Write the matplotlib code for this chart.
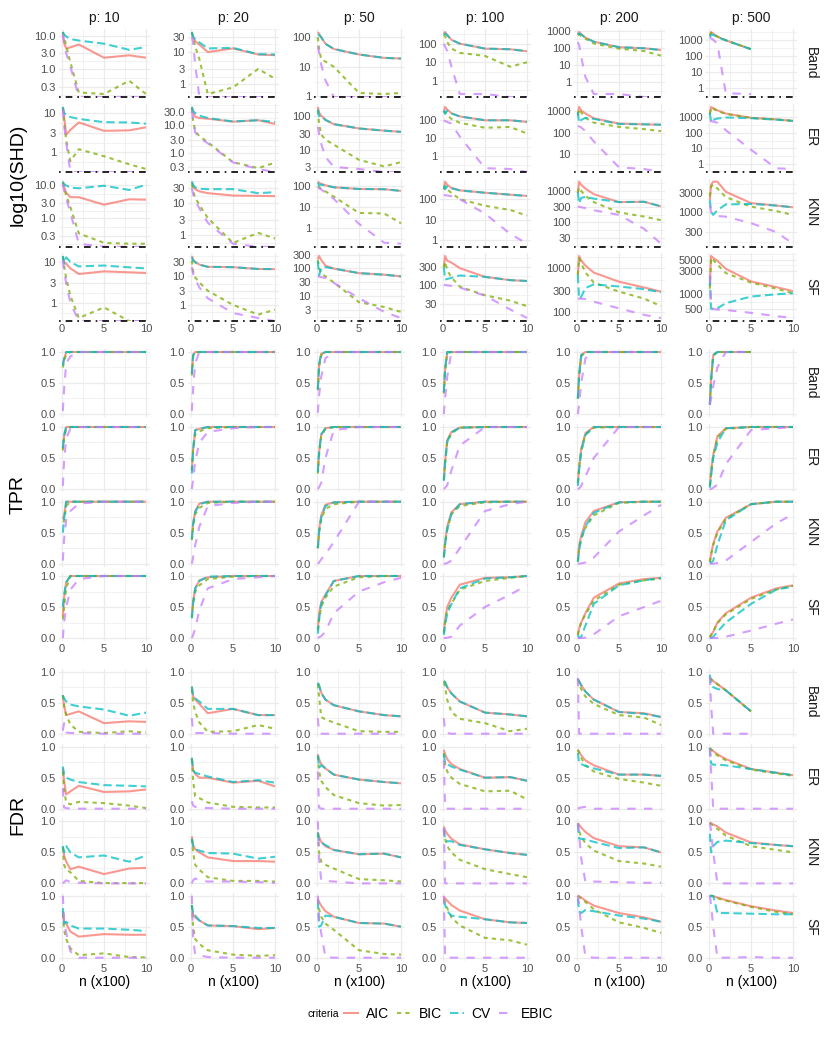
import numpy as np
import matplotlib
matplotlib.use('Agg')
import matplotlib.pyplot as plt
from matplotlib.lines import Line2D
from matplotlib.ticker import FixedLocator, FixedFormatter, NullFormatter

plt.rcParams['font.family'] = ['Liberation Sans', 'DejaVu Sans']

nan = np.nan
n_vals = [0.1, 0.25, 0.5, 1, 2, 5, 8, 10]
p_vals = [10, 20, 50, 100, 200, 500]
graphs = ['Band', 'ER', 'KNN', 'SF']
criteria = ['AIC', 'BIC', 'CV', 'EBIC']

# ---- SHD (log scale), one list per p = 10, 20, 50, 100, 200, 500 ----
shd_band = {
    'AIC': [[13, 6, 4.2, 4.5, 5.5, 2.2, 2.6, 2.2], [42, 28, 22, 17, 10, 13, 8.4, 8],
            [150, 130, 100, 60, 40, 26, 20, 19], [330, 420, 300, 160, 100, 54, 50, 39],
            [600, 850, 650, 400, 230, 110, 95, 75], [2000, 3300, 2600, 1700, 1000, 280, nan, nan]],
    'BIC': [[13, 9, 5, 1.6, 0.2, 0.18, 0.45, 0.18], [40, 28, 15, 6, 0.5, 0.8, 3, 1.5],
            [100, 40, 18, 15, 10, 1.3, 1.2, 1.3], [300, 250, 120, 55, 32, 22, 5.8, 10],
            [550, 600, 500, 350, 180, 90, 65, 35], [2000, 3000, 2500, 1700, 1000, 280, nan, nan]],
    'CV': [[13, 11, 9.5, 8, 7.2, 5.8, 3.8, 4.6], [42, 30, 25, 20, 13, 13.5, 8.6, 8.4],
           [120, 120, 100, 60, 40, 26, 20, 19], [300, 350, 280, 160, 100, 54, 50, 39],
           [600, 700, 600, 380, 230, 110, 95, 75], [1500, 2200, 2200, 1600, 1000, 280, nan, nan]],
    'EBIC': [[11, 6, 3, 1.2, 0, 0, 0, 0], [30, 20, 4, 0, 0, 0, 0, 0],
             [50, 30, 12, 3.5, 0, 0, 0, 0], [100, 70, 40, 6, 0.2, 0.2, 0, 0],
             [220, 150, 30, 2, 0.2, 0.2, 0, 0], [1500, 1300, 1100, 600, 0.5, 0.45, nan, nan]],
}
shd_er = {
    'AIC': [[14, 8, 2.8, 3.7, 5.7, 3.5, 3.6, 4.3], [45, 28, 20, 18, 17, 13.3, 15, 11],
            [190, 130, 105, 78, 58, 43, 37, 34], [300, 560, 400, 250, 165, 100, 100, 81],
            [600, 1600, 1100, 800, 480, 270, 250, 240], [1500, 4800, 4000, 2900, 1800, 950, 750, 600]],
    'BIC': [[13, 6, 2, 0.6, 1.2, 0.8, 0.5, 0.38], [40, 15, 6, 4, 2.4, 0.46, 0.28, 0.44],
            [150, 60, 28, 20, 14, 4.9, 3.1, 4.2], [250, 300, 200, 120, 72, 38, 42, 18],
            [700, 1300, 900, 500, 300, 190, 150, 120], [1800, 4500, 3800, 2700, 1700, 950, 750, 600]],
    'CV': [[14, 10, 8.7, 7.8, 7, 5.8, 5.7, 5.3], [45, 32, 27, 22, 18, 13.5, 15, 13],
           [160, 100, 105, 78, 58, 43, 37, 34], [350, 230, 350, 240, 165, 100, 100, 81],
           [900, 300, 400, 500, 450, 260, 250, 240], [2000, 500, 700, 850, 1000, 900, 720, 600]],
    'EBIC': [[12, 5, 1.8, 0, 0, 0, 0, 0], [33, 15, 5.5, 3.5, 2.2, 0.45, 0.26, 0],
             [48, 30, 15, 6, 3.0, 2.6, 0, 0], [100, 90, 80, 65, 12, 0.2, 0.18, 0],
             [210, 200, 180, 120, 40, 2.5, 2.1, 0], [600, 580, 550, 450, 150, 8, 0.5, 0.45]],
}
shd_knn = {
    'AIC': [[13, 9, 6, 4.4, 4.4, 2.6, 3.8, 3.7], [48, 35, 28, 24, 21, 17.7, 17.3, 17],
            [165, 150, 130, 112, 89, 74, 72, 60], [300, 700, 500, 350, 265, 205, 165, 143],
            [850, 2000, 1600, 1200, 790, 440, 450, 320], [2000, 5000, 6000, 6000, 3300, 1680, 1450, 1310]],
    'BIC': [[12, 8, 5, 2.2, 0.35, 0.18, 0.17, 0.17], [40, 25, 15, 9, 3.5, 0.58, 1.2, 0.8],
            [100, 90, 75, 57, 32, 5.3, 5, 1.7], [300, 420, 300, 200, 100, 48, 30, 16],
            [900, 1300, 1000, 700, 440, 205, 150, 115], [2500, 4500, 5000, 4000, 2400, 1360, 1050, 830]],
    'CV': [[13, 11, 10, 8.6, 8.2, 9.8, 7.3, 10.5], [48, 38, 32, 29, 28, 28, 21, 22.5],
           [150, 110, 120, 110, 89, 74, 72, 60], [450, 300, 420, 340, 265, 205, 165, 143],
           [900, 400, 600, 650, 570, 440, 450, 320], [2000, 1000, 830, 1100, 1550, 1600, 1450, 1310]],
    'EBIC': [[11, 7, 4, 1.5, 0.17, 0, 0, 0], [30, 20, 12, 7, 2.5, 0.55, 0, 0],
             [90, 80, 70, 50, 25, 1.6, 0.2, 0.18], [160, 155, 150, 140, 100, 20, 2.1, 0.7],
             [320, 310, 300, 280, 240, 170, 60, 20], [1500, 1000, 810, 780, 750, 510, 300, 150]],
}
shd_sf = {
    'AIC': [[14, 10, 9, 7, 5.1, 5.9, 5.6, 5.4], [50, 38, 31, 25, 21, 20.5, 17.7, 17.5],
            [210, 280, 200, 125, 97, 66, 58, 50], [300, 600, 450, 400, 283, 165, 135, 128],
            [700, 1900, 1500, 1150, 790, 490, 360, 290], [1500, 6000, 5500, 4800, 3300, 1830, 1400, 1160]],
    'BIC': [[13, 8, 4, 1.5, 0.43, 0.78, 0, 0], [35, 15, 9, 6, 3.1, 1, 0.46, 0.68],
            [200, 100, 65, 50, 30, 5.7, 3.8, 2.5], [300, 420, 250, 160, 90, 53, 38, 27],
            [700, 1700, 1300, 800, 465, 290, 200, 135], [1300, 5500, 5000, 4000, 2700, 1730, 1300, 1050]],
    'CV': [[14, 9, 13, 10, 7.8, 8.2, 7.4, 7], [45, 35, 30, 25, 21, 20.5, 17.7, 17.5],
           [180, 55, 100, 110, 97, 66, 58, 50], [300, 140, 145, 155, 180, 165, 135, 128],
           [700, 200, 220, 350, 425, 380, 330, 280], [2200, 510, 500, 520, 660, 900, 1000, 1050]],
    'EBIC': [[11, 6, 3, 1, 0, 0, 0, 0], [21, 12, 8, 4, 1.7, 0.52, 0.35, 0],
             [50, 49, 47, 44, 29, 8, 2.5, 1.5], [100, 100, 98, 95, 85, 52, 22, 13],
             [200, 200, 200, 195, 170, 120, 85, 72], [2500, 600, 500, 490, 480, 420, 360, 330]],
}
shd_ticks = [
    [['0.3', '1.0', '3.0', '10.0'], ['1', '3', '10', '30'], ['1', '10', '100'],
     ['1', '10', '100'], ['1', '10', '100', '1000'], ['1', '10', '100', '1000']],
    [['1', '3', '10'], ['0.3', '1.0', '3.0', '10.0', '30.0'], ['3', '10', '30', '100'],
     ['1', '10', '100'], ['10', '100', '1000'], ['1', '10', '100', '1000']],
    [['0.3', '1.0', '3.0', '10.0'], ['1', '3', '10', '30'], ['1', '10', '100'],
     ['1', '10', '100'], ['30', '100', '300', '1000'], ['300', '1000', '3000']],
    [['1', '3', '10'], ['1', '3', '10', '30'], ['3', '10', '30', '100', '300'],
     ['30', '100', '300'], ['100', '300', '1000'], ['500', '1000', '3000', '5000']],
]

# ---- TPR ----
tpr_band = {
    'AIC': [[0.8, 0.88, 1, 1, 1, 1, 1, 1], [0.65, 0.95, 1, 1, 1, 1, 1, 1], [0.4, 0.8, 0.97, 1, 1, 1, 1, 1],
            [0.35, 0.72, 1, 1, 1, 1, 1, 1], [0.25, 0.62, 0.95, 1, 1, 1, 1, 1], [0.15, 0.55, 0.95, 1, 1, 1, nan, nan]],
    'BIC': [[0.75, 0.85, 0.97, 1, 1, 1, 1, 1], [0.62, 0.93, 0.99, 1, 1, 1, 1, 1], [0.38, 0.75, 0.95, 1, 1, 1, 1, 1],
            [0.33, 0.7, 0.98, 1, 1, 1, 1, 1], [0.25, 0.6, 0.93, 1, 1, 1, 1, 1], [0.15, 0.55, 0.94, 1, 1, 1, nan, nan]],
    'CV': [[0.78, 0.9, 1, 1, 1, 1, 1, 1], [0.65, 0.95, 1, 1, 1, 1, 1, 1], [0.4, 0.8, 0.97, 1, 1, 1, 1, 1],
           [0.35, 0.72, 1, 1, 1, 1, 1, 1], [0.25, 0.62, 0.95, 1, 1, 1, 1, 1], [0.15, 0.55, 0.95, 1, 1, 1, nan, nan]],
    'EBIC': [[0.05, 0.4, 0.82, 0.93, 1, 1, 1, 1], [0.05, 0.4, 0.82, 1, 1, 1, 1, 1], [0.02, 0.3, 0.6, 0.9, 1, 1, 1, 1],
             [0.0, 0.25, 0.6, 1, 1, 1, 1, 1], [0, 0.15, 0.5, 0.9, 1, 1, 1, 1], [0.15, 0.25, 0.45, 0.75, 1, 1, nan, nan]],
}
tpr_er = {
    'AIC': [[0.65, 0.85, 1, 1, 1, 1, 1, 1], [0.3, 0.65, 0.95, 0.97, 1, 1, 1, 1], [0.3, 0.6, 0.87, 0.98, 1, 1, 1, 1],
            [0.15, 0.45, 0.79, 0.92, 0.99, 1, 1, 1], [0.1, 0.35, 0.65, 0.9, 1, 1, 1, 1], [0.05, 0.3, 0.55, 0.85, 0.98, 1, 1, 1]],
    'BIC': [[0.62, 0.82, 0.97, 1, 1, 1, 1, 1], [0.3, 0.65, 0.88, 0.93, 0.98, 1, 1, 1], [0.25, 0.55, 0.85, 0.97, 1, 1, 1, 1],
            [0.15, 0.42, 0.75, 0.9, 0.99, 1, 1, 1], [0.1, 0.35, 0.62, 0.88, 0.99, 1, 1, 1], [0.05, 0.28, 0.52, 0.83, 0.97, 1, 1, 1]],
    'CV': [[0.66, 0.87, 1, 1, 1, 1, 1, 1], [0.25, 0.6, 0.95, 0.97, 1, 1, 1, 1], [0.27, 0.6, 0.88, 0.98, 1, 1, 1, 1],
           [0.13, 0.42, 0.76, 0.91, 0.99, 1, 1, 1], [0.05, 0.3, 0.6, 0.87, 1, 1, 1, 1], [0.02, 0.2, 0.5, 0.75, 0.98, 1, 1, 1]],
    'EBIC': [[0.05, 0.45, 0.82, 0.97, 1, 1, 1, 1], [0.0, 0.15, 0.45, 0.75, 0.92, 0.98, 1, 1], [0, 0.03, 0.1, 0.5, 0.95, 1, 1, 1],
             [0, 0.02, 0.06, 0.3, 0.7, 1, 1, 1], [0, 0.01, 0.05, 0.2, 0.5, 1, 1, 1], [0, 0, 0.02, 0.07, 0.4, 0.95, 0.98, 1]],
}
tpr_knn = {
    'AIC': [[0.72, 0.78, 1, 1, 1, 1, 1, 1], [0.4, 0.65, 0.85, 0.97, 1, 1, 1, 1], [0.25, 0.55, 0.78, 0.95, 0.99, 1, 1, 1],
            [0.1, 0.35, 0.6, 0.83, 0.96, 1, 1, 1], [0.05, 0.3, 0.45, 0.67, 0.85, 0.99, 1, 1], [0.03, 0.15, 0.32, 0.52, 0.74, 0.96, 1, 1]],
    'BIC': [[0.68, 0.68, 0.93, 1, 1, 1, 1, 1], [0.38, 0.6, 0.8, 0.9, 0.98, 1, 1, 1], [0.25, 0.5, 0.72, 0.88, 0.96, 1, 1, 1],
            [0.12, 0.35, 0.55, 0.8, 0.93, 0.99, 1, 1], [0.03, 0.25, 0.4, 0.58, 0.78, 0.98, 1, 1], [0.03, 0.15, 0.3, 0.5, 0.72, 0.96, 1, 1]],
    'CV': [[0.5, 0.72, 1, 1, 1, 1, 1, 1], [0.4, 0.63, 0.83, 0.96, 1, 1, 1, 1], [0.25, 0.52, 0.74, 0.93, 0.99, 1, 1, 1],
           [0.1, 0.3, 0.55, 0.8, 0.96, 1, 1, 1], [0.03, 0.2, 0.4, 0.6, 0.82, 0.99, 1, 1], [0.03, 0.01, 0.05, 0.3, 0.7, 0.96, 1, 1]],
    'EBIC': [[0.05, 0.4, 0.7, 0.85, 0.97, 1, 1, 1], [0, 0.1, 0.3, 0.6, 0.93, 0.98, 1, 1], [0, 0.02, 0.07, 0.15, 0.35, 1, 1, 1],
             [0, 0, 0.01, 0.05, 0.25, 0.85, 0.96, 1], [0, 0, 0.005, 0.02, 0.1, 0.52, 0.78, 0.95], [0, 0, 0, 0.01, 0.05, 0.35, 0.65, 0.8]],
}
tpr_sf = {
    'AIC': [[0.35, 0.65, 0.9, 1, 1, 1, 1, 1], [0.35, 0.6, 0.8, 0.93, 0.98, 1, 1, 1], [0.15, 0.4, 0.58, 0.7, 0.92, 1, 1, 1],
            [0.1, 0.3, 0.5, 0.65, 0.86, 0.97, 0.98, 1], [0.05, 0.15, 0.25, 0.4, 0.65, 0.88, 0.95, 0.97], [0.01, 0.05, 0.1, 0.25, 0.4, 0.65, 0.8, 0.85]],
    'BIC': [[0.3, 0.5, 0.8, 1, 1, 1, 1, 1], [0.32, 0.55, 0.75, 0.85, 0.95, 0.99, 1, 1], [0.12, 0.3, 0.5, 0.65, 0.83, 0.98, 1, 1],
            [0.08, 0.25, 0.45, 0.55, 0.78, 0.92, 0.97, 1], [0.05, 0.15, 0.25, 0.38, 0.6, 0.86, 0.93, 0.96], [0.01, 0.05, 0.1, 0.24, 0.38, 0.63, 0.78, 0.84]],
    'CV': [[0.5, 0.7, 0.9, 1, 1, 1, 1, 1], [0.32, 0.55, 0.8, 0.92, 0.99, 1, 1, 1], [0.07, 0.3, 0.55, 0.68, 0.92, 1, 1, 1],
           [0.05, 0.2, 0.4, 0.55, 0.8, 0.96, 0.98, 1], [0.05, 0.0, 0.02, 0.2, 0.55, 0.85, 0.93, 0.97], [0, 0, 0.02, 0.1, 0.25, 0.55, 0.78, 0.83]],
    'EBIC': [[0, 0.25, 0.5, 0.78, 0.95, 1, 1, 1], [0, 0.05, 0.15, 0.45, 0.8, 0.95, 0.98, 1], [0, 0.01, 0.03, 0.1, 0.4, 0.75, 0.9, 0.97],
             [0, 0, 0.005, 0.02, 0.2, 0.5, 0.7, 0.85], [0, 0, 0, 0.005, 0.06, 0.35, 0.5, 0.6], [0, 0, 0, 0, 0.02, 0.12, 0.23, 0.3]],
}

# ---- FDR ----
fdr_band = {
    'AIC': [[0.62, 0.45, 0.3, 0.32, 0.36, 0.17, 0.2, 0.19], [0.76, 0.6, 0.55, 0.48, 0.33, 0.4, 0.3, 0.3],
            [0.82, 0.78, 0.66, 0.55, 0.46, 0.36, 0.3, 0.28], [0.85, 0.83, 0.75, 0.65, 0.52, 0.34, 0.31, 0.28],
            [0.88, 0.85, 0.78, 0.68, 0.55, 0.35, 0.33, 0.27], [0.9, 0.88, 0.85, 0.8, 0.7, 0.36, nan, nan]],
    'BIC': [[0.62, 0.45, 0.3, 0.15, 0.03, 0.01, 0.04, 0.015], [0.72, 0.5, 0.35, 0.18, 0.03, 0.04, 0.14, 0.08],
            [0.8, 0.6, 0.27, 0.23, 0.18, 0.04, 0.03, 0.03], [0.83, 0.75, 0.55, 0.35, 0.24, 0.17, 0.04, 0.08],
            [0.88, 0.8, 0.72, 0.6, 0.48, 0.3, 0.26, 0.14], [0.9, 0.88, 0.85, 0.8, 0.7, 0.36, nan, nan]],
    'CV': [[0.62, 0.57, 0.52, 0.47, 0.44, 0.39, 0.29, 0.34], [0.76, 0.6, 0.57, 0.52, 0.4, 0.4, 0.3, 0.3],
           [0.82, 0.78, 0.66, 0.55, 0.46, 0.36, 0.3, 0.28], [0.85, 0.83, 0.75, 0.65, 0.52, 0.34, 0.31, 0.28],
           [0.88, 0.85, 0.78, 0.68, 0.55, 0.35, 0.32, 0.27], [0.95, 0.78, 0.75, 0.72, 0.7, 0.36, nan, nan]],
    'EBIC': [[0.05, 0.17, 0.02, 0.01, 0.01, 0, 0, 0], [0.25, 0.02, 0.01, 0.01, 0.01, 0, 0, 0],
             [0.25, 0.01, 0, 0, 0, 0, 0, 0], [0.25, 0.03, 0.01, 0, 0, 0, 0, 0],
             [0.9, 0, 0, 0, 0, 0, 0, 0], [0.92, 0.45, 0, 0, 0, 0, nan, nan]],
}
fdr_er = {
    'AIC': [[0.65, 0.45, 0.23, 0.28, 0.37, 0.27, 0.28, 0.31], [0.82, 0.62, 0.56, 0.5, 0.5, 0.42, 0.45, 0.36],
            [0.88, 0.8, 0.72, 0.65, 0.55, 0.47, 0.43, 0.41], [0.95, 0.88, 0.8, 0.72, 0.64, 0.5, 0.51, 0.45],
            [0.95, 0.92, 0.86, 0.78, 0.7, 0.55, 0.55, 0.53], [0.98, 0.96, 0.93, 0.88, 0.8, 0.64, 0.58, 0.54]],
    'BIC': [[0.6, 0.3, 0.1, 0.07, 0.11, 0.09, 0.05, 0.01], [0.8, 0.45, 0.2, 0.17, 0.1, 0.03, 0.02, 0.02],
            [0.85, 0.6, 0.45, 0.35, 0.22, 0.09, 0.05, 0.06], [0.9, 0.72, 0.6, 0.5, 0.4, 0.28, 0.29, 0.15],
            [0.95, 0.9, 0.82, 0.7, 0.6, 0.48, 0.42, 0.37], [0.98, 0.95, 0.92, 0.86, 0.78, 0.63, 0.57, 0.53]],
    'CV': [[0.68, 0.55, 0.5, 0.47, 0.43, 0.38, 0.37, 0.36], [0.82, 0.62, 0.58, 0.56, 0.52, 0.43, 0.46, 0.42],
           [0.86, 0.66, 0.7, 0.65, 0.55, 0.47, 0.43, 0.41], [0.88, 0.73, 0.72, 0.68, 0.63, 0.5, 0.51, 0.45],
           [0.9, 0.74, 0.72, 0.69, 0.65, 0.55, 0.55, 0.53], [0.98, 0.73, 0.71, 0.71, 0.7, 0.64, 0.58, 0.54]],
    'EBIC': [[0.33, 0.02, 0.01, 0, 0, 0, 0, 0], [0.12, 0.05, 0.03, 0.02, 0.01, 0, 0, 0],
             [0.6, 0.02, 0, 0, 0, 0, 0, 0], [0.78, 0, 0, 0, 0, 0, 0, 0],
             [0, 0.01, 0.02, 0.03, 0, 0, 0, 0], [0.97, 0.6, 0, 0, 0, 0, 0, 0]],
}
fdr_knn = {
    'AIC': [[0.6, 0.45, 0.35, 0.23, 0.27, 0.15, 0.24, 0.25], [0.76, 0.62, 0.55, 0.5, 0.42, 0.36, 0.36, 0.35],
            [0.83, 0.75, 0.67, 0.6, 0.54, 0.47, 0.48, 0.42], [0.92, 0.86, 0.8, 0.72, 0.63, 0.55, 0.49, 0.46],
            [0.97, 0.95, 0.9, 0.83, 0.73, 0.6, 0.58, 0.5], [0.98, 0.97, 0.95, 0.92, 0.82, 0.66, 0.62, 0.6]],
    'BIC': [[0.58, 0.3, 0.22, 0.18, 0.04, 0.005, 0.005, 0.005], [0.72, 0.5, 0.3, 0.22, 0.1, 0.04, 0.04, 0.03],
            [0.8, 0.5, 0.35, 0.3, 0.24, 0.07, 0.05, 0.03], [0.85, 0.72, 0.6, 0.5, 0.38, 0.23, 0.15, 0.1],
            [0.97, 0.85, 0.75, 0.65, 0.53, 0.36, 0.32, 0.27], [0.98, 0.96, 0.93, 0.88, 0.77, 0.6, 0.54, 0.5]],
    'CV': [[0.6, 0.5, 0.6, 0.5, 0.42, 0.45, 0.35, 0.45], [0.72, 0.6, 0.55, 0.53, 0.49, 0.48, 0.4, 0.43],
           [0.82, 0.68, 0.66, 0.62, 0.54, 0.47, 0.48, 0.42], [0.88, 0.7, 0.68, 0.68, 0.62, 0.55, 0.49, 0.46],
           [0.95, 0.72, 0.72, 0.71, 0.67, 0.57, 0.58, 0.5], [0.8, 0.5, 0.6, 0.67, 0.69, 0.65, 0.62, 0.6]],
    'EBIC': [[0, 0.02, 0.05, 0.02, 0.01, 0, 0, 0], [0, 0.05, 0.08, 0.05, 0.03, 0.03, 0.02, 0.01],
             [1.0, 0.4, 0.05, 0.04, 0.03, 0, 0, 0], [0.9, 0, 0, 0, 0, 0, 0, 0],
             [0.97, 0.8, 0.4, 0.03, 0.03, 0.02, 0.01, 0.01], [0.98, 0.85, 0.5, 0, 0, 0, 0, 0]],
}
fdr_sf = {
    'AIC': [[0.75, 0.58, 0.55, 0.42, 0.34, 0.38, 0.37, 0.37], [0.85, 0.7, 0.65, 0.6, 0.52, 0.51, 0.46, 0.48],
            [0.95, 0.9, 0.84, 0.75, 0.66, 0.56, 0.55, 0.5], [0.98, 0.96, 0.92, 0.85, 0.76, 0.62, 0.57, 0.56],
            [1.0, 0.99, 0.97, 0.92, 0.84, 0.72, 0.65, 0.58], [0.99, 1.0, 0.99, 0.97, 0.93, 0.83, 0.76, 0.72]],
    'BIC': [[0.7, 0.45, 0.3, 0.15, 0.04, 0.07, 0.01, 0.005], [0.85, 0.5, 0.3, 0.22, 0.12, 0.05, 0.03, 0.04],
            [0.93, 0.78, 0.66, 0.55, 0.45, 0.12, 0.06, 0.05], [0.95, 0.9, 0.8, 0.65, 0.52, 0.32, 0.28, 0.21],
            [1.0, 0.98, 0.95, 0.9, 0.78, 0.57, 0.48, 0.4], [0.99, 1.0, 0.99, 0.96, 0.92, 0.82, 0.74, 0.7]],
    'CV': [[0.8, 0.55, 0.58, 0.52, 0.47, 0.47, 0.45, 0.43], [0.85, 0.68, 0.68, 0.6, 0.52, 0.51, 0.48, 0.48],
           [0.92, 0.5, 0.52, 0.68, 0.66, 0.56, 0.55, 0.5], [0.93, 0.85, 0.75, 0.68, 0.66, 0.62, 0.57, 0.56],
           [0.95, 0.75, 0.72, 0.77, 0.75, 0.68, 0.63, 0.58], [1.0, 0.99, 1.0, 0.72, 0.72, 0.71, 0.7, 0.7]],
    'EBIC': [[1.0, 0.6, 0.4, 0.1, 0, 0, 0, 0], [1.0, 0.3, 0.05, 0.04, 0.01, 0, 0, 0],
             [1.0, 0.6, 0.4, 0.01, 0, 0, 0, 0], [1.0, 0, 0, 0, 0, 0, 0, 0],
             [1.0, 0.85, 0.5, 0.02, 0, 0, 0, 0], [1.0, 0.85, 0.5, 0, 0, 0.01, 0, 0]],
}

blocks = [
    ('log10(SHD)', [shd_band, shd_er, shd_knn, shd_sf]),
    ('TPR', [tpr_band, tpr_er, tpr_knn, tpr_sf]),
    ('FDR', [fdr_band, fdr_er, fdr_knn, fdr_sf]),
]

colors = {'AIC': '#F8766D', 'BIC': '#7CAE00', 'CV': '#00BFC4', 'EBIC': '#C77CFF'}
styles = {'AIC': '-', 'BIC': (0, (2, 2)), 'CV': (0, (4, 2)), 'EBIC': (0, (4, 4))}
lw = 1.5
alpha = 0.75
grid_col = '#EBEBEB'
tick_col = '#4D4D4D'

W, H = 830, 1038
fig = plt.figure(figsize=(W / 100, H / 100), dpi=100)
fig.patch.set_facecolor('white')

# layout in pixels
col_x0 = [62, 191, 317, 443, 577, 709]   # pixel position of n = 0
px_per = 8.4
xlo, xhi = -0.395, 10.495
block_top = [28.9, 348.9, 668.6]
row_off = [0, 75, 149.7, 224]
ph = 68.2


def log_minor(vals, lo, hi):
    lv = np.log10(vals)
    if len(lv) > 1:
        ext = np.concatenate([[lv[0] - (lv[1] - lv[0])], lv, [lv[-1] + (lv[-1] - lv[-2])]])
    else:
        ext = np.array([lv[0] - 1, lv[0], lv[0] + 1])
    mids = (ext[:-1] + ext[1:]) / 2
    return [10 ** m for m in mids if lo <= m <= hi]


for b, (ylab, data_rows) in enumerate(blocks):
    for r, g in enumerate(graphs):
        for c, p in enumerate(p_vals):
            left = col_x0[c] + xlo * px_per
            width = (xhi - xlo) * px_per
            top = block_top[b] + row_off[r]
            ax = fig.add_axes([left / W, 1 - (top + ph) / H, width / W, ph / H])
            d = data_rows[r]
            for s in ax.spines.values():
                s.set_visible(False)
            ax.set_xlim(xlo, xhi)
            ax.xaxis.set_major_locator(FixedLocator([0, 5, 10]))
            ax.xaxis.set_minor_locator(FixedLocator([2.5, 7.5]))

            if b == 0:
                allv = np.concatenate([np.array(d[k][c], dtype=float) for k in criteria])
                pos = allv[np.isfinite(allv) & (allv > 0)]
                lo, hi = np.log10(pos.min()), np.log10(pos.max())
                ex = (hi - lo) * 0.05
                lo, hi = lo - ex, hi + ex
                ax.set_yscale('log')
                ax.set_ylim(10 ** lo, 10 ** hi)
                labs = shd_ticks[r][c]
                tv = [float(t) for t in labs]
                ax.yaxis.set_major_locator(FixedLocator(tv))
                ax.yaxis.set_major_formatter(FixedFormatter(labs))
                ax.yaxis.set_minor_locator(FixedLocator(log_minor(tv, lo, hi)))
                ax.yaxis.set_minor_formatter(NullFormatter())
                bottom = 10 ** lo
            else:
                ax.set_ylim(-0.05, 1.05)
                ax.yaxis.set_major_locator(FixedLocator([0, 0.5, 1.0]))
                ax.yaxis.set_major_formatter(FixedFormatter(['0.0', '0.5', '1.0']))
                ax.yaxis.set_minor_locator(FixedLocator([0.25, 0.75]))
                bottom = None

            ax.grid(True, which='major', color=grid_col, lw=0.9, zorder=0)
            ax.grid(True, which='minor', color=grid_col, lw=0.45, zorder=0)
            ax.set_axisbelow(True)
            ax.tick_params(which='both', length=0, labelsize=8, labelcolor=tick_col, pad=2)
            if r != 3:
                ax.tick_params(axis='x', labelbottom=False)

            for k, crit in enumerate(criteria):
                y = np.array(d[crit][c], dtype=float)
                if bottom is not None:
                    y = np.where(y == 0, bottom, y)
                ax.plot(n_vals, y, color=colors[crit], ls=styles[crit], lw=lw,
                        alpha=alpha, zorder=3 + k, solid_capstyle='butt', dash_capstyle='butt')
            if b == 0:
                ax.axhline(bottom, color='black', ls=(0, (1, 3, 4, 3)), lw=1.2,
                           zorder=8, clip_on=False)

            if b == 0 and r == 0:
                ax.set_title('p: %d' % p, fontsize=10, color='#1A1A1A', pad=5)
            if c == 5:
                ax.text(1.0 + 14 / width, 0.5, g, transform=ax.transAxes, rotation=270,
                        ha='center', va='center', fontsize=10, color='#1A1A1A')
            if b == 2 and r == 3:
                ax.set_xlabel('n (x100)', fontsize=10, labelpad=1)

    ymid = block_top[b] + (row_off[-1] + ph) / 2
    fig.text(18 / W, 1 - ymid / H, ylab, rotation=90, ha='center', va='center', fontsize=14)

# legend
fig.text(307 / W, 1 - 1014 / H, 'criteria', ha='left', va='center', fontsize=7.5)
handles = [Line2D([], [], color=colors[k], ls=styles[k], lw=lw, alpha=alpha) for k in criteria]
fig.legend(handles, criteria, loc='center left', bbox_to_anchor=(344 / W, 1 - 1014 / H),
           ncol=4, frameon=False, fontsize=10, handlelength=1.0, handletextpad=0.55,
           columnspacing=0.6, borderpad=0, borderaxespad=0)

fig.savefig('out.png', dpi=100, facecolor='white')
